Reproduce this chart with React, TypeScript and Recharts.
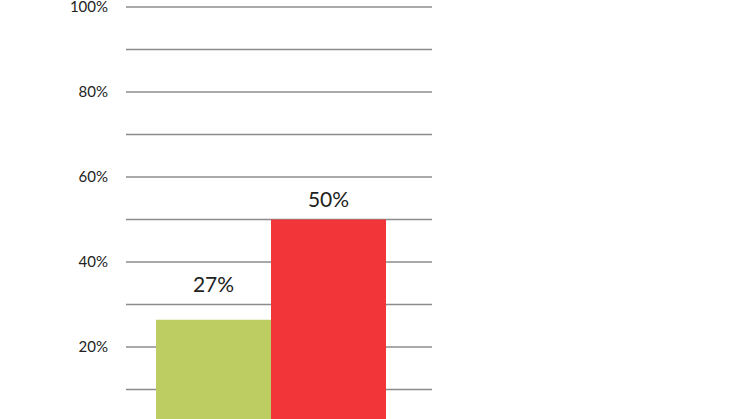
import { BarChart, Bar, XAxis, YAxis, CartesianGrid, Cell, LabelList } from 'recharts';

const categories = ['A', 'B'];
const values = [26.4, 50];
const valueLabels = ['27%', '50%'];
const barColors = ['#bdcd62', '#f23538'];
const yTicks = [0, 10, 20, 30, 40, 50, 60, 70, 80, 90, 100];
const yTickLabels = ['', '', '20%', '', '40%', '', '60%', '', '80%', '', '100%'];

const labelLift = [28, 13];

const data = categories.map((name, i) => ({ name, value: values[i], label: valueLabels[i] }));

const FONT = 'Lato, "Open Sans", sans-serif';

function ValueLabel(props: any) {
  const { x, y, width, index } = props;
  return (
    <text
      x={x + width / 2}
      y={y - labelLift[index]}
      textAnchor="middle"
      fontFamily={FONT}
      fontSize={21}
      fill="#222"
    >
      {valueLabels[index]}
    </text>
  );
}

export default function App() {
  return (
    <div style={{ position: 'absolute', left: 0, top: 0, width: 746, height: 419, overflow: 'hidden', background: '#fff' }}>
      <BarChart
        width={746}
        height={450}
        data={data}
        barCategoryGap={0}
        margin={{ top: 7, right: 314, left: 0, bottom: 18 }}
      >
        <CartesianGrid vertical={false} stroke="#8c8c8c" strokeWidth={1.3} />
        <XAxis dataKey="name" hide padding={{ left: 30, right: 46 }} />
        <YAxis
          width={126}
          domain={[0, 100]}
          ticks={yTicks}
          interval={0}
          axisLine={false}
          tickLine={false}
          tickSize={0}
          tickMargin={18}
          tickFormatter={(v: number) => yTickLabels[yTicks.indexOf(v)]}
          tick={{ fontFamily: FONT, fontSize: 15, fill: '#222' }}
        />
        <Bar dataKey="value" isAnimationActive={false}>
          {data.map((d, i) => (
            <Cell key={d.name} fill={barColors[i]} />
          ))}
          <LabelList dataKey="label" content={<ValueLabel />} />
        </Bar>
      </BarChart>
    </div>
  );
}
